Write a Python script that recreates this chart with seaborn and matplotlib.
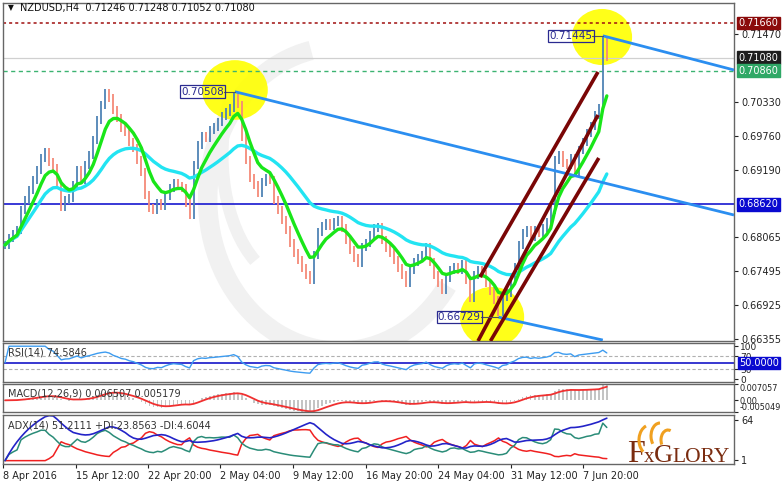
import numpy as np
import pandas as pd
import matplotlib
matplotlib.use("Agg")
import matplotlib.pyplot as plt
import matplotlib.transforms as mtransforms
from matplotlib.patches import Ellipse, Arc
import seaborn as sns

sns.set_theme(style="white")
plt.rcParams["font.family"] = ["DejaVu Sans"]

# ---------------- data ----------------
symbol = "NZDUSD,H4"
last_ohlc = ["0.71246", "0.71248", "0.71052", "0.71080"]

closes = [
    0.67938, 0.68056, 0.68123, 0.68190, 0.68525, 0.68693, 0.68860, 0.69028, 0.69196, 0.69397,
    0.69497, 0.69330, 0.69229, 0.68944, 0.68575, 0.68693, 0.68726, 0.68944, 0.69196, 0.69028,
    0.69279, 0.69447, 0.69698, 0.70034, 0.70285, 0.70486, 0.70403, 0.70201, 0.70067, 0.69900,
    0.69833, 0.69665, 0.69564, 0.69363, 0.69162, 0.68776, 0.68558, 0.68525, 0.68642, 0.68592,
    0.68760, 0.68894, 0.68978, 0.68927, 0.68894, 0.68642, 0.68441, 0.69279, 0.69615, 0.69766,
    0.69732, 0.69866, 0.69916, 0.70000, 0.70101, 0.70168, 0.70235, 0.70440, 0.70300, 0.69749,
    0.69363, 0.69061, 0.68944, 0.68810, 0.68994, 0.69061, 0.69028, 0.68693, 0.68525, 0.68357,
    0.68190, 0.67972, 0.67804, 0.67687, 0.67553, 0.67435, 0.67351, 0.67771, 0.68156, 0.68257,
    0.68307, 0.68257, 0.68324, 0.68357, 0.68223, 0.68022, 0.67854, 0.67720, 0.67636, 0.67905,
    0.67972, 0.68106, 0.68223, 0.68240, 0.68022, 0.67888, 0.67804, 0.67687, 0.67553, 0.67435,
    0.67301, 0.67519, 0.67653, 0.67720, 0.67771, 0.67905, 0.67653, 0.67435, 0.67301, 0.67184,
    0.67385, 0.67519, 0.67569, 0.67519, 0.67620, 0.67351, 0.67050, 0.67435, 0.67519, 0.67452,
    0.67301, 0.67167, 0.67016, 0.66800, 0.67066, 0.67133, 0.67385, 0.67569, 0.67938, 0.68140,
    0.68190, 0.68072, 0.68190, 0.68140, 0.68223, 0.68324, 0.68525, 0.69363, 0.69447, 0.69313,
    0.69279, 0.69397, 0.69162, 0.69531, 0.69665, 0.69816, 0.69933, 0.70118, 0.70235, 0.71380,
    0.71080,
]

date_labels = ["8 Apr 2016", "15 Apr 12:00", "22 Apr 20:00", "2 May 04:00", "9 May 12:00",
               "16 May 20:00", "24 May 04:00", "31 May 12:00", "7 Jun 20:00"]
date_bars = [-0.5, 17.6, 35.6, 53.7, 71.8, 89.9, 107.9, 126.0, 144.0]

price_ticks = [0.71470, 0.70330, 0.69760, 0.69190, 0.68065, 0.67495, 0.66925, 0.66355]
level_resist = 0.71660
level_bid = 0.71080
level_green = 0.70860
level_blue = 0.68620

pivot_bars = [57.3, 149, 123]
pivot_prices = [0.70508, 0.71445, 0.66729]

blue_trend = [[(57.3, 0.70508), (181.7, 0.68441)],
              [(149.0, 0.71445), (181.7, 0.70872)],
              [(123.0, 0.66729), (149.0, 0.66345)]]
red_channel = [[(118.4, 0.67402), (147.8, 0.70839)],
               [(117.9, 0.66329), (147.8, 0.70118)],
               [(121.0, 0.66329), (148.0, 0.69397)]]

rsi_label = "RSI(14) 74.5846"
macd_label = "MACD(12,26,9) 0.006507 0.005179"
adx_label = "ADX(14) 51.2111 +DI:23.8563 -DI:4.6044"
rsi_marks = [0, 30, 70, 100]
rsi_mid = 50.0
macd_range = [-0.005049, 0.007057]
adx_marks = [1, 64]

# ---------------- derived series ----------------
s = pd.Series(closes, dtype=float)
n = len(s)
idx = np.arange(n)
opens = s.shift(1).fillna(s.iloc[0])
wick = 0.0006
highs = np.maximum(opens, s) + wick
lows = np.minimum(opens, s) - wick

fast = s.ewm(span=7).mean()
slow = s.ewm(span=30).mean()

d = s.diff()
gain = d.clip(lower=0).ewm(alpha=1 / 12, adjust=False).mean()
loss = (-d.clip(upper=0)).ewm(alpha=1 / 12, adjust=False).mean()
rsi = (100 - 100 / (1 + gain / loss)).fillna(50)

macd = s.ewm(span=7).mean() - s.ewm(span=16).mean()
signal = macd.ewm(span=5).mean()

up = highs.diff().fillna(0)
dn = (-lows.diff()).fillna(0)
pdm = pd.Series(np.where((up > dn) & (up > 0), up, 0.0))
mdm = pd.Series(np.where((dn > up) & (dn > 0), dn, 0.0))
pc = s.shift(1).fillna(s.iloc[0])
tr = pd.concat([highs - lows, (highs - pc).abs(), (lows - pc).abs()], axis=1).max(axis=1)
atr = tr.ewm(alpha=1 / 9, adjust=False).mean()
pdi = 100 * pdm.ewm(alpha=1 / 9, adjust=False).mean() / atr
mdi = 100 * mdm.ewm(alpha=1 / 9, adjust=False).mean() / atr
dxv = (100 * (pdi - mdi).abs() / (pdi + mdi)).fillna(0)
adx = dxv.ewm(alpha=1 / 9, adjust=False).mean()

df = pd.DataFrame({"i": idx, "fast": fast, "slow": slow, "rsi": rsi, "macd": macd,
                   "signal": signal, "adx": adx, "pdi": pdi, "mdi": mdi})

# ---------------- figure ----------------
W, H = 782, 486
fig = plt.figure(figsize=(W / 100, H / 100), dpi=100)
fig.patch.set_facecolor("white")

def box(y0, y1):
    return [3 / W, 1 - y1 / H, (734 - 3) / W, (y1 - y0) / H]

ax = fig.add_axes(box(3, 341))
ax_rsi = fig.add_axes(box(343, 382), sharex=ax)
ax_macd = fig.add_axes(box(384, 412), sharex=ax)
ax_adx = fig.add_axes(box(415, 464), sharex=ax)
XL = (-0.5, 181.7)

for a in (ax, ax_rsi, ax_macd, ax_adx):
    a.set_facecolor("white")
    for sp in a.spines.values():
        sp.set_color("#666666")
        sp.set_linewidth(1.0)
    a.yaxis.tick_right()
    a.tick_params(axis="y", direction="out", length=3, width=0.8, pad=2,
                  labelsize=7, colors="#222222")
    a.tick_params(axis="x", bottom=False, labelbottom=False)
    a.grid(False)

# ---- watermark (faint swirl) ----
for (cx, cy, w, h, t1, t2, lw) in [(0.46, 0.42, 0.36, 0.90, 95, 300, 14),
                                   (0.40, 0.55, 0.20, 0.75, 120, 260, 9)]:
    ax.add_patch(Arc((cx, cy), w, h, theta1=t1, theta2=t2, transform=ax.transAxes,
                     color="#f1f1f1", lw=lw, zorder=0.5))

# ---- main panel ----
ax.set_ylim(0.66329, 0.71995)
cols = np.where(s >= opens, "#4f83b5", "#f58a78")
ax.vlines(idx, lows, highs, colors=cols, lw=1.3, zorder=3)

ell_w = [16.4, 15.0, 16.0]
ell_h = [0.0100, 0.0094, 0.0101]
ell_c = [(57.3, 0.70537), (148.8, 0.71425), (121.4, 0.66731)]
for (cx, cy), w, h in zip(ell_c, ell_w, ell_h):
    ax.add_patch(Ellipse((cx, cy), w, h, color="#ffff00", alpha=0.9, lw=0, zorder=2))

ax.axhline(level_resist, color="#a01010", lw=1.1, ls=(0, (2, 2)), zorder=2)
ax.axhline(level_bid, color="#d0d0d0", lw=0.9, zorder=2)
ax.axhline(level_green, color="#3cb371", lw=1.0, ls=(0, (3, 2.5)), zorder=2)
ax.axhline(level_blue, color="#1818d0", lw=1.2, zorder=2)

sns.lineplot(data=df, x="i", y="slow", ax=ax, color="#22e4f2", lw=2.4, zorder=4, legend=False)
sns.lineplot(data=df, x="i", y="fast", ax=ax, color="#19e619", lw=2.4, zorder=4, legend=False)

for (p0, p1) in blue_trend:
    ax.plot([p0[0], p1[0]], [p0[1], p1[1]], color="#2b8ef0", lw=2.0, zorder=5, solid_capstyle="butt")
for (p0, p1) in red_channel:
    ax.plot([p0[0], p1[0]], [p0[1], p1[1]], color="#7a0606", lw=2.6, zorder=5, solid_capstyle="butt")

label_off = [2.8, 2.6, 4.4]
for bx, py, off in zip(pivot_bars, pivot_prices, label_off):
    ax.plot([bx - off, bx], [py, py], color="#555555", lw=0.8, zorder=6)
    ax.text(bx - off, py, f"{py:.5f}", ha="right", va="center", fontsize=7.5, color="#2a2a90",
            zorder=7, bbox=dict(boxstyle="square,pad=0.12", fc="none", ec="#2a2a90", lw=0.9))

ax.set_yticks(price_ticks)
ax.set_yticklabels([f"{v:.5f}" for v in price_ticks])

tr_main = mtransforms.blended_transform_factory(ax.transAxes, ax.transData)
for val, bg in [(level_resist, "#8b0a0a"), (level_bid, "#1e1e1e"),
                (level_green, "#2fa866"), (level_blue, "#0a0ad0")]:
    ax.text(1.0065, val, f"{val:.5f}", transform=tr_main, ha="left", va="center",
            fontsize=7, color="white", zorder=8, clip_on=False,
            bbox=dict(boxstyle="square,pad=0.15", fc=bg, ec=bg))

fig.text(8 / W, 1 - 8 / H, "\u25bc", fontsize=5.5, color="#111111", va="center")
fig.text(20 / W, 1 - 8 / H, f"{symbol}  " + " ".join(last_ohlc), fontsize=7, color="#111111", va="center")

# ---- RSI ----
ax_rsi.set_ylim(-8.5, 109.7)
ax_rsi.axhline(70, color="#b0b0b0", lw=0.8, ls=(0, (3, 2)))
ax_rsi.axhline(30, color="#b0b0b0", lw=0.8, ls=(0, (3, 2)))
ax_rsi.axhline(rsi_mid, color="#1515c8", lw=1.2)
sns.lineplot(data=df, x="i", y="rsi", ax=ax_rsi, color="#3d9cf0", lw=1.0, legend=False)
ax_rsi.set_yticks(rsi_marks)
ax_rsi.set_yticklabels([str(v) for v in rsi_marks])
ax_rsi.tick_params(axis="y", labelsize=6.5, pad=1.5)
tr_rsi = mtransforms.blended_transform_factory(ax_rsi.transAxes, ax_rsi.transData)
ax_rsi.text(1.0065, rsi_mid, f"{rsi_mid:.4f}", transform=tr_rsi, ha="left", va="center", fontsize=7,
            color="white", clip_on=False, zorder=8,
            bbox=dict(boxstyle="square,pad=0.12", fc="#0a0ad0", ec="#0a0ad0"))
fig.text(8 / W, 1 - 352 / H, rsi_label, fontsize=7, color="#333333", va="center")

# ---- MACD ----
ax_macd.set_ylim(*macd_range)
ax_macd.bar(idx, macd, width=0.45, color="#c4c4c4", lw=0)
sns.lineplot(data=df, x="i", y="signal", ax=ax_macd, color="#f03030", lw=1.3, legend=False)
ax_macd.set_yticks([macd_range[0], 0, macd_range[1]])
ax_macd.set_yticklabels([f"{macd_range[0]:.6f}", "0.00", f"{macd_range[1]:.6f}"])
ax_macd.tick_params(axis="y", labelsize=5.9, pad=1)
lbls = ax_macd.get_yticklabels()
lbls[0].set_va("bottom")
lbls[2].set_va("top")
fig.text(8 / W, 1 - 393 / H, macd_label, fontsize=7, color="#333333", va="center")

# ---- ADX ----
ax_adx.set_ylim(-5.3, 72)
sns.lineplot(data=df, x="i", y="mdi", ax=ax_adx, color="#f02020", lw=1.1, legend=False)
sns.lineplot(data=df, x="i", y="pdi", ax=ax_adx, color="#2a8c78", lw=1.1, legend=False)
sns.lineplot(data=df, x="i", y="adx", ax=ax_adx, color="#2323c8", lw=1.2, legend=False)
ax_adx.set_yticks(adx_marks)
ax_adx.set_yticklabels([str(v) for v in adx_marks])
fig.text(8 / W, 1 - 425 / H, adx_label, fontsize=7, color="#333333", va="center")

ax_adx.tick_params(axis="x", bottom=True, labelbottom=True, direction="out", length=3,
                   width=0.8, pad=2, labelsize=7, colors="#222222")
ax_adx.set_xticks(date_bars)
ax_adx.set_xticklabels(date_labels)
for t in ax_adx.get_xticklabels():
    t.set_ha("left")
for a in (ax, ax_rsi, ax_macd, ax_adx):
    a.set_xlim(*XL)
    a.set_xlabel("")
    a.set_ylabel("")

# ---- logo ----
fig.canvas.draw()
rend = fig.canvas.get_renderer()
xpix = 627
for txt, fs in [("F", 23), ("x", 15), ("G", 19), ("LORY", 15.5)]:
    t = fig.text(xpix / W, 1 - 462 / H, txt, fontsize=fs, family="Liberation Serif",
                 color="#7a2c10", va="baseline", ha="left")
    bb = t.get_window_extent(renderer=rend)
    xpix = bb.x1 - 0.5
for (cx, cy, w, h, t1, t2) in [(650, 440, 22, 30, 100, 250), (660, 436, 18, 26, 90, 240),
                               (668, 440, 14, 20, 80, 230)]:
    fig.patches.append(Arc((cx / W, 1 - cy / H), w / W, h / H, theta1=t1, theta2=t2,
                           transform=fig.transFigure, color="#f0a020", lw=2.2, zorder=10))

fig.savefig("out.png", dpi=100, facecolor="white")
